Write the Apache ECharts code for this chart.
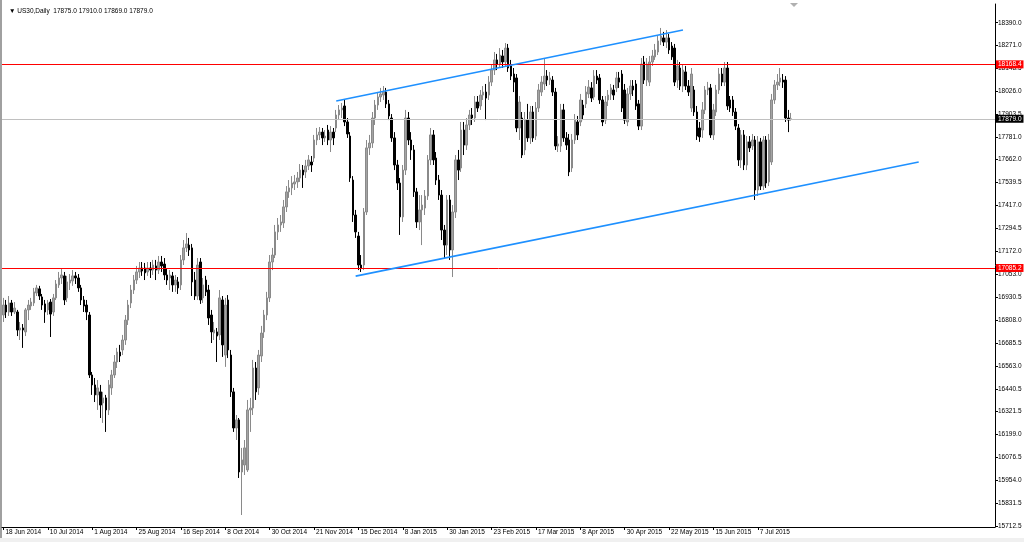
<!DOCTYPE html>
<html><head><meta charset="utf-8">
<script src="https://cdn.jsdelivr.net/npm/echarts@6/dist/echarts.min.js"></script>
<style>html,body{margin:0;padding:0;background:#fff}#c{width:1024px;height:542px}</style>
</head><body><div id="c"></div>
<script>
const chartTitle = 'US30,Daily  17875.0 17910.0 17869.0 17879.0';
const dateLabels = ['18 Jun 2014','10 Jul 2014','1 Aug 2014','25 Aug 2014','16 Sep 2014','8 Oct 2014','30 Oct 2014','21 Nov 2014','15 Dec 2014','8 Jan 2015','30 Jan 2015','23 Feb 2015','17 Mar 2015','8 Apr 2015','30 Apr 2015','22 May 2015','15 Jun 2015','7 Jul 2015'];
const barsPerLabel = 16;
const totalSlots = 358;
const yTicks = [18390.0,18271.0,18148.5,18026.0,17903.5,17781.0,17662.0,17539.5,17417.0,17294.5,17172.0,17053.0,16930.5,16808.0,16685.5,16563.0,16440.5,16321.5,16199.0,16076.5,15954.0,15831.5,15712.5];
const yMin = 15707.2, yMax = 18489.5;
const levels = [18168.4, 17085.2];
const lastPrice = 17879.0;
const trendLines = [[[120,17973],[245,18351]], [[127,17042],[330,17649]]];
// [open, close, low, high]
const ohlc = [
[16835,16888,16798,16926],[16888,16851,16819,16915],[16851,16899,16830,16936],[16899,16851,16830,16915],[16851,16872,16840,16904],
[16851,16755,16723,16862],[16755,16766,16702,16798],[16766,16755,16660,16787],[16745,16862,16723,16872],[16862,16888,16808,16915],
[16883,16904,16862,16926],[16899,16958,16883,16979],[16952,16979,16936,16995],[16974,16936,16915,16990],[16931,16888,16862,16947],
[16894,16851,16793,16915],[16862,16899,16835,16915],[16904,16840,16718,16920],[16851,16926,16830,16947],[16926,17000,16915,17021],
[16995,17032,16979,17064],[17032,17048,17000,17085],[17043,16915,16888,17064],[16926,17011,16904,17043],[17005,17021,16968,17053],
[17016,17043,16990,17074],[17043,17032,17000,17064],[17032,16979,16958,17053],[16979,16915,16888,16995],[16915,16883,16851,16936],
[16888,16851,16808,16915],[16835,16516,16500,16851],[16516,16463,16410,16532],[16463,16410,16372,16500],[16410,16447,16330,16489],
[16426,16356,16287,16463],[16367,16394,16261,16426],[16394,16330,16213,16410],[16330,16463,16303,16489],[16447,16516,16410,16543],
[16516,16585,16500,16622],[16585,16638,16553,16660],[16638,16617,16585,16676],[16649,16702,16622,16729],[16702,16808,16676,16835],
[16808,16888,16782,16915],[16899,16968,16872,16995],[16968,17021,16947,17048],[17021,17064,17000,17096],[17064,17085,17032,17117],
[17085,17069,17043,17117],[17085,17059,17021,17112],[17064,17085,17043,17117],[17085,17074,17032,17117],[17074,17101,17048,17128],
[17096,17074,17021,17128],[17074,17117,17053,17149],[17117,17096,17064,17149],[17106,17048,17021,17138],[17048,17021,16995,17085],
[17032,17048,16968,17074],[17043,16995,16958,17064],[16995,17021,16958,17048],[17011,16979,16947,17037],[16995,17128,16968,17154],
[17128,17192,17101,17234],[17192,17213,17170,17271],[17207,17181,17149,17245],[17192,17011,16936,17213],[17021,16936,16915,17064],
[16936,17101,16915,17138],[17117,16915,16894,17138],[16926,16995,16899,17032],[17021,16958,16936,17043],[16968,16819,16782,16995],
[16835,16745,16686,16862],[16739,16755,16702,16798],[16745,16723,16585,16766],[16729,16926,16702,16968],[16915,16676,16612,16936],
[16622,16888,16559,16926],[16915,16649,16606,16941],[16622,16426,16399,16649],[16426,16234,16213,16447],[16234,16277,16170,16303],
[16277,16000,15968,16287],[16000,16064,15771,16128],[16037,16128,15984,16170],[16011,16330,16000,16383],[16330,16340,16213,16394],
[16340,16553,16303,16596],[16553,16426,16383,16585],[16447,16622,16410,16649],[16617,16739,16585,16777],[16745,16835,16713,16862],
[16835,16926,16808,16958],[16926,17117,16904,17154],[17117,17154,17074,17192],[17154,17277,17138,17314],[17277,17314,17234,17351],
[17314,17330,17277,17367],[17325,17410,17298,17447],[17410,17490,17383,17521],[17490,17511,17458,17553],[17511,17537,17473,17574],
[17532,17543,17500,17580],[17543,17564,17511,17596],[17564,17606,17543,17638],[17606,17580,17511,17633],[17596,17628,17564,17660],
[17628,17660,17606,17686],[17649,17633,17596,17681],[17670,17766,17649,17793],[17766,17793,17739,17830],[17793,17808,17766,17835],
[17808,17777,17739,17830],[17777,17787,17756,17819],[17819,17766,17739,17846],[17766,17808,17702,17840],[17808,17777,17739,17830],
[17830,17899,17808,17926],[17899,17926,17872,17952],[17926,17936,17883,17963],[17947,17862,17840,17979],[17862,17798,17777,17883],
[17787,17564,17543,17808],[17553,17367,17330,17574],[17367,17277,17245,17394],[17255,17101,17074,17277],[17101,17085,17064,17154],
[17101,17383,17074,17404],[17383,17724,17367,17766],[17724,17750,17686,17793],[17750,17883,17724,17915],[17883,17952,17846,17979],
[17952,17995,17926,18021],[17995,18011,17968,18043],[18005,18021,17979,18053],[18021,17958,17936,18043],[17958,17894,17872,17979],
[17883,17777,17756,17904],[17777,17633,17606,17808],[17633,17537,17500,17660],[17537,17357,17261,17564],[17357,17606,17330,17633],
[17606,17883,17580,17926],[17883,17766,17739,17915],[17766,17713,17660,17808],[17713,17490,17463,17739],[17490,17330,17298,17511],
[17330,17394,17287,17473],[17394,17420,17207,17473],[17404,17468,17367,17500],[17468,17660,17447,17686],[17660,17793,17633,17830],
[17793,17660,17633,17819],[17670,17553,17527,17702],[17553,17473,17447,17580],[17473,17287,17234,17500],[17287,17207,17138,17314],
[17207,17447,17154,17473],[17447,17181,17128,17473],[17181,17383,17037,17420],[17383,17660,17351,17686],[17660,17606,17553,17713],
[17617,17819,17596,17862],[17819,17739,17686,17862],[17739,17846,17713,17883],[17846,17899,17819,17926],[17899,17883,17846,17936],
[17883,17968,17862,18000],[17968,17936,17915,18000],[17947,18005,17926,18032],[18005,18021,17979,18053],[18021,17989,17872,18064],
[18005,18074,17979,18106],[18074,18138,18053,18170],[18138,18192,18112,18234],[18192,18170,18138,18224],[18170,18218,18149,18255],
[18213,18181,18149,18245],[18181,18255,18160,18282],[18255,18149,18128,18277],[18160,18106,18085,18192],[18117,18074,18021,18149],
[18096,17830,17808,18117],[17830,17968,17766,18000],[17883,17686,17670,17915],[17713,17872,17686,17915],[17872,17777,17756,17958],
[17777,17915,17745,17947],[17915,17777,17756,17947],[17787,17936,17766,17968],[17936,18032,17915,18064],[18021,18074,18000,18106],
[18064,18106,18032,18202],[18106,18085,18053,18138],[18085,18096,18059,18128],[18085,18021,18000,18106],[18021,17734,17713,18043],
[17734,17745,17702,17787],[17734,17926,17702,17958],[17926,17777,17756,17958],[17777,17739,17713,17808],[17766,17596,17574,17798],
[17617,17766,17596,17798],[17766,17872,17745,17904],[17862,17793,17766,17894],[17862,17979,17840,18011],[17952,17899,17872,17979],
[17958,18021,17936,18053],[18011,18048,17989,18085],[18043,17989,17968,18074],[17995,18106,17979,18138],[18106,18085,18064,18138],
[18096,17979,17958,18117],[17979,17862,17840,18000],[17872,17968,17851,18000],[17979,18005,17947,18032],[18011,18043,17979,18064],
[18032,18005,17979,18059],[18043,18096,18021,18128],[18096,18074,18043,18128],[18117,17936,17915,18138],[18032,17872,17851,18064],
[17862,18011,17840,18043],[18011,18053,17979,18085],[18053,18032,18000,18085],[18064,17947,17926,18085],[17958,17840,17819,17979],
[17840,18170,17819,18202],[18181,18085,18064,18213],[18085,18170,18053,18202],[18074,18181,18053,18213],[18181,18213,18160,18245],
[18208,18245,18192,18277],[18234,18293,18218,18319],[18293,18319,18271,18362],[18309,18287,18266,18341],[18287,18309,18255,18351],
[18309,18245,18224,18330],[18266,18208,18192,18287],[18255,18074,18053,18277],[18085,18160,18043,18192],[18149,18053,18032,18181],
[18053,18138,18021,18170],[18128,18053,18032,18160],[18053,18021,18000,18085],[17936,18117,17915,18149],[18032,17915,17894,18053],
[17915,17787,17766,17947],[17830,17782,17756,17862],[17819,17926,17777,17968],[17926,18032,17904,18053],[18032,18043,18005,18075],
[18043,17793,17777,18064],[17793,17926,17766,17958],[17915,18032,17894,18059],[18032,18117,18011,18149],[18117,18074,18053,18149],
[18074,18149,18053,18181],[18149,17947,17926,18181],[17979,17936,17915,18000],[17979,17915,17894,18000],[17915,17840,17819,17936],
[17830,17660,17628,17851],[17660,17793,17617,17819],[17793,17633,17606,17819],[17633,17756,17606,17787],[17756,17724,17702,17787],
[17734,17766,17713,17798],[17766,17500,17447,17787],[17500,17756,17468,17787],[17756,17521,17500,17777],[17521,17766,17500,17787],
[17766,17537,17511,17787],[17543,17766,17521,17798],[17649,17979,17633,18011],[17979,18059,17958,18085],[18059,18074,18032,18117],
[18074,18096,18053,18149],[18085,18074,18043,18117],[18085,17883,17862,18106],[17883,17872,17808,17926],[17875,17879,17869,17910]
];

const FONT = 'Liberation Sans';
const categories = Array.from({length: totalSlots}, (_, i) => String(i));
const isLabelIdx = i => i % barsPerLabel === 0 && i / barsPerLabel < dateLabels.length;

const chart = echarts.init(document.getElementById('c'), null, {renderer: 'canvas'});
const levelLines = levels.map(v => ({
  yAxis: v,
  lineStyle: {color: '#ff0000', width: 1, type: 'solid'},
  label: {show: true, position: 'end', distance: 1, formatter: v.toFixed(1), color: '#fff', backgroundColor: '#ff0000', padding: [1, 2, 0, 2], fontSize: 6.5, fontFamily: FONT}
}));
const priceLine = {
  yAxis: lastPrice,
  lineStyle: {color: '#c0c0c0', width: 1, type: 'solid'},
  label: {show: true, position: 'end', distance: 1, formatter: lastPrice.toFixed(1), color: '#fff', backgroundColor: '#000', padding: [1, 2, 0, 2], fontSize: 6.5, fontFamily: FONT}
};
const trendData = trendLines.map(seg => [
  {coord: seg[0], lineStyle: {color: '#1e90ff', width: 1.6, type: 'solid'}, label: {show: false}},
  {coord: seg[1]}
]);

chart.setOption({
  animation: false,
  backgroundColor: '#ffffff',
  title: {
    text: '\u25BC ' + chartTitle, left: 4, top: 3,
    textStyle: {fontSize: 6.5, fontWeight: 'normal', color: '#000', fontFamily: FONT}
  },
  grid: {left: 2, top: 4, width: 993, height: 523, outerBoundsMode: 'none', show: false},
  xAxis: {
    type: 'category', data: categories, boundaryGap: true,
    axisLine: {show: true, lineStyle: {color: '#000', width: 1}},
    axisTick: {show: true, alignWithLabel: true, interval: (i) => isLabelIdx(i), length: 3, lineStyle: {color: '#000'}},
    axisLabel: {show: true, interval: (i) => isLabelIdx(i), formatter: (v, i) => isLabelIdx(i) ? dateLabels[i / barsPerLabel] : '',
      align: 'left', margin: 2, fontSize: 6.5, color: '#000', fontFamily: FONT, padding: [0, 0, 0, 2]},
    splitLine: {show: false}
  },
  yAxis: {
    type: 'value', position: 'right', min: yMin, max: yMax, scale: true,
    axisLine: {show: true, lineStyle: {color: '#000', width: 1}},
    axisTick: {show: true, customValues: yTicks, length: 3, lineStyle: {color: '#000'}},
    axisLabel: {show: true, customValues: yTicks, formatter: v => Number(v).toFixed(1), margin: 3, fontSize: 6.5, color: '#000', fontFamily: FONT},
    splitLine: {show: false}
  },
  series: [{
    type: 'candlestick', data: ohlc, barWidth: 2,
    itemStyle: {color: '#a4a4a4', borderColor: '#8a8a8a', color0: '#000000', borderColor0: '#000000', borderWidth: 1},
    markLine: {
      silent: true, symbol: ['none', 'none'], animation: false,
      data: [...levelLines, priceLine, ...trendData]
    }
  }],
  graphic: [
    {type: 'rect', left: 0, top: 0, shape: {width: 2, height: 542}, style: {fill: '#a0a0a0'}, silent: true},
    {type: 'rect', left: 0, bottom: 0, shape: {width: 1024, height: 4}, style: {fill: '#f0f0f0'}, silent: true},
    {type: 'polygon', shape: {points: [[790, 3], [798, 3], [794, 7]]}, style: {fill: '#b0b0b0'}, silent: true}
  ]
});
</script></body></html>
